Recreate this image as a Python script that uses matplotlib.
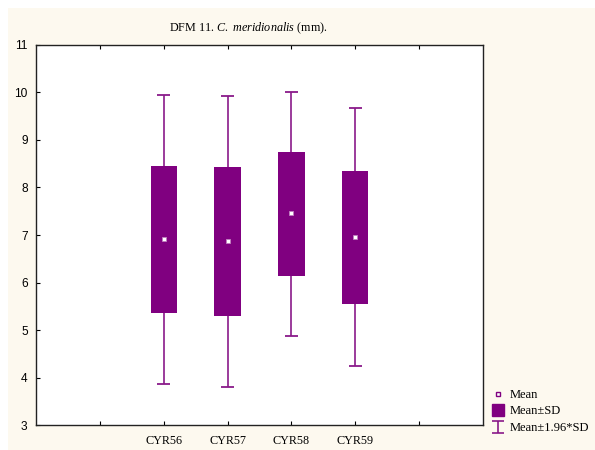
import numpy as np
import matplotlib
matplotlib.use('Agg')
import matplotlib.pyplot as plt
from matplotlib.lines import Line2D
from matplotlib.patches import Rectangle
from matplotlib.path import Path

plt.rcParams['mathtext.fontset'] = 'custom'
plt.rcParams['mathtext.it'] = 'Liberation Serif:italic'
plt.rcParams['mathtext.rm'] = 'Liberation Serif'

# values
groups = ['CYR56', 'CYR57', 'CYR58', 'CYR59']
means = [6.91, 6.87, 7.46, 6.95]
sd_low = [5.35, 5.30, 6.14, 5.56]
sd_high = [8.44, 8.43, 8.745, 8.35]
ci_low = [3.86, 3.81, 4.88, 4.25]
ci_high = [9.94, 9.93, 10.00, 9.67]

purple = '#800080'
whisker_col = '#8a1a8a'
cream = '#fdf9ef'

fig = plt.figure(figsize=(5.95, 4.5), dpi=100)
fig.patch.set_facecolor('white')
# cream panel (white strip on left and top, as in the reference)
fig.patches.append(Rectangle((8 / 595, 0), 1, 1 - 8 / 450, transform=fig.transFigure,
                             facecolor=cream, edgecolor='none', zorder=-10))

ax = fig.add_axes([36 / 595, 24.7 / 450, 447 / 595, 380.6 / 450])
ax.set_facecolor('white')

x = np.arange(1, len(groups) + 1)

# whiskers (mean +- 1.96*SD)
ax.vlines(x, ci_low, ci_high, color=whisker_col, lw=1.2, zorder=2)
ax.hlines(ci_low, x - 0.105, x + 0.105, color=whisker_col, lw=1.3, zorder=2)
ax.hlines(ci_high, x - 0.105, x + 0.105, color=whisker_col, lw=1.3, zorder=2)

# boxes (mean +- SD)
heights = np.array(sd_high) - np.array(sd_low)
ax.bar(x, heights, bottom=sd_low, width=0.41, color=purple, zorder=3)

# means
ax.plot(x, means, ls='none', marker='s', ms=3.2, mfc='white', mec='#c080c0', mew=0.6, zorder=4)

ax.set_xlim(-1, 6)
ax.set_ylim(3, 11)
ax.set_yticks(range(3, 12))
ax.set_xticks(range(0, 6))
ax.set_xticklabels([''] + groups + [''], family='Liberation Serif', fontsize=8.7)
ax.tick_params(axis='y', direction='in', length=3, width=0.8, pad=6, labelsize=8.6)
for lab in ax.get_yticklabels():
    lab.set_family('Liberation Sans')
ax.tick_params(axis='x', direction='in', length=3, width=0.8, pad=7, top=True)
for s in ax.spines.values():
    s.set_linewidth(1.0)
    s.set_color('#222222')

fig.text(248 / 595, 1 - 28.5 / 450, r'DFM 11. $\mathit{C.\ meridionalis}$ (mm).',
         ha='center', va='center', family='Liberation Serif', fontsize=8.7)

# legend
ibeam = Path([(-1, -1), (1, -1), (0, -1), (0, 1), (-1, 1), (1, 1)],
             [Path.MOVETO, Path.LINETO, Path.MOVETO, Path.LINETO, Path.MOVETO, Path.LINETO])
handles = [
    Line2D([], [], ls='none', marker='s', ms=3.2, mfc='white', mec=purple, mew=1.0),
    Line2D([], [], ls='none', marker='s', ms=8, color=purple),
    Line2D([], [], ls='none', marker=ibeam, ms=9, mfc='none', mec=whisker_col, mew=1.2),
]
fig.legend(handles, ['Mean', 'Mean\u00b1SD', 'Mean\u00b11.96*SD'], loc='upper left',
           bbox_to_anchor=(492 / 595, 1 - 389 / 450), frameon=False,
           prop={'family': 'Liberation Serif', 'size': 9},
           handlelength=1.0, handletextpad=0.4, labelspacing=0.36, borderpad=0, borderaxespad=0)

fig.savefig('out.png', dpi=100, facecolor=fig.get_facecolor())
